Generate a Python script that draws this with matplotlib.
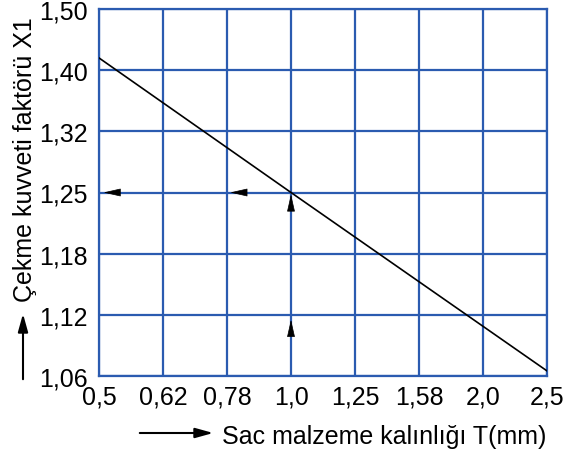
import numpy as np
import matplotlib.pyplot as plt
from matplotlib.patches import FancyArrowPatch

plt.rcParams['font.family'] = ['Liberation Sans', 'DejaVu Sans']

# Data
x_ticks = [0.5, 0.62, 0.78, 1.0, 1.25, 1.58, 2.0, 2.5]
x_labels = ["0,5", "0,62", "0,78", "1,0", "1,25", "1,58", "2,0", "2,5"]
y_ticks = [1.06, 1.12, 1.18, 1.25, 1.32, 1.40, 1.50]
y_labels = ["1,06", "1,12", "1,18", "1,25", "1,32", "1,40", "1,50"]

line_t = [0.5, 1.0, 2.5]
line_x1 = [1.42, 1.25, 1.065]

# reading example
read_t = 1.0
read_x1 = 1.25


def xpos(v):
    return np.interp(v, x_ticks, np.arange(len(x_ticks)))


def ypos(v):
    return np.interp(v, y_ticks, np.arange(len(y_ticks)))


blue = '#2b5bb0'
W, H = 574, 456
fs = 18
fig = plt.figure(figsize=(W / 100, H / 100), dpi=100)
ax = fig.add_axes([99 / W, 1 - 377 / H, 448 / W, 367 / H])

ax.set_xlim(0, len(x_ticks) - 1)
ax.set_ylim(0, len(y_ticks) - 1)
ax.set_xticks(np.arange(len(x_ticks)))
ax.set_xticklabels(x_labels)
ax.set_yticks(np.arange(len(y_ticks)))
ax.set_yticklabels(y_labels)
ax.tick_params(length=0, labelsize=fs)
ax.tick_params(axis='x', pad=6)
ax.tick_params(axis='y', pad=8)
ax.grid(True, color=blue, lw=1.6)
for s in ax.spines.values():
    s.set_color(blue)
    s.set_linewidth(1.6)

ax.plot(xpos(line_t), ypos(line_x1), color='black', lw=1.2, zorder=3)

# arrow heads on the reading lines
head = dict(arrowstyle='-|>,head_length=1.1,head_width=0.25', color='black',
            lw=0.5, shrinkA=0, shrinkB=0)
xr, yr = xpos(read_t), ypos(read_x1)
ax.annotate('', xy=(xr, yr - 0.03), xytext=(xr, yr - 0.3), arrowprops=head, zorder=4)
ax.annotate('', xy=(xr, 0.92), xytext=(xr, 0.68), arrowprops=head, zorder=4)
ax.annotate('', xy=(0.07, yr), xytext=(0.3, yr), arrowprops=head, zorder=4)
ax.annotate('', xy=(2.05, yr), xytext=(2.28, yr), arrowprops=head, zorder=4)

# axis labels with arrows
fig.text(222 / W, 1 - 437 / H, "Sac malzeme kalınlığı T(mm)", fontsize=fs,
         ha='left', va='center')
fig.text(25 / W, 1 - 160 / H, "Çekme kuvveti faktörü X1", fontsize=fs,
         rotation=90, ha='center', va='center')
style = '-|>,head_length=0.9,head_width=0.25'
fig.add_artist(FancyArrowPatch((137 / W, 1 - 434 / H), (216 / W, 1 - 434 / H),
                               transform=fig.transFigure, arrowstyle=style,
                               color='black', lw=1.5, mutation_scale=12))
fig.add_artist(FancyArrowPatch((23 / W, 1 - 383 / H), (23 / W, 1 - 312 / H),
                               transform=fig.transFigure, arrowstyle=style,
                               color='black', lw=1.5, mutation_scale=12))

fig.savefig('out.png', dpi=100)
